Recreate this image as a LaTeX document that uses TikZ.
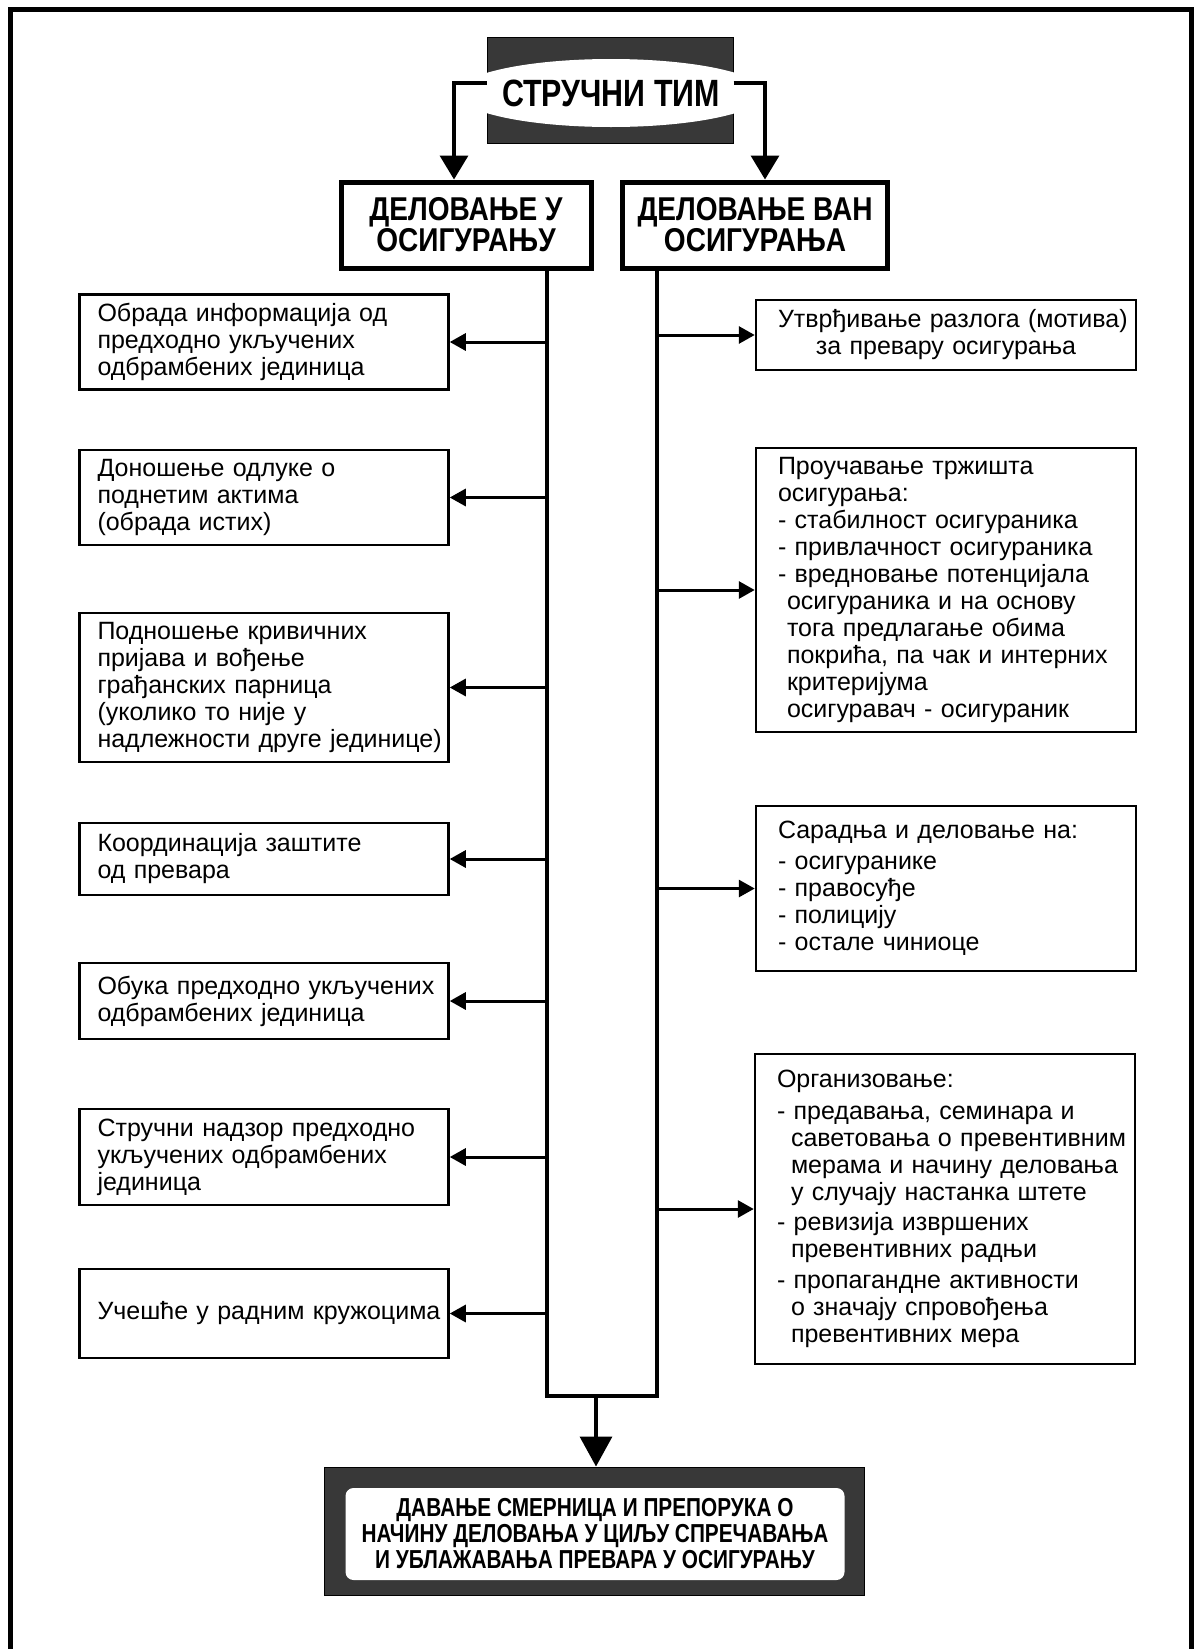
\documentclass[tikz,border=0pt]{standalone}
\usepackage{fontspec}
\setmainfont{Liberation Sans}
\newfontfamily\narrowfont[FakeStretch=0.8]{Liberation Sans Bold}
\newfontfamily\headfont[FakeStretch=0.85]{Liberation Sans Bold}
\usetikzlibrary{arrows.meta,shapes.geometric}
\tikzset{
    lbox/.style={rectangle,draw,line width=2.5pt,minimum width=369pt,text width=333pt,inner xsep=18pt,align=left,font=\fontsize{25}{27}\selectfont},
    rbox/.style={rectangle,draw,line width=2.5pt,minimum width=380pt,text width=336pt,inner xsep=22pt,align=left,font=\fontsize{25}{27}\selectfont},
    head/.style={rectangle,draw,line width=5pt,minimum height=86pt,align=center,font=\headfont\fontsize{33}{31}\selectfont},
    dark/.style={rectangle,fill=black!78,draw=black,line width=1pt},
    dedge/.style={->,> = {Triangle[length=16pt,width=17pt]},line width=3pt},
    bigedge/.style={->,> = {Triangle[length=24pt,width=28pt]},line width=3.5pt},
    edge/.style={-,line width=3.5pt, draw=black},
}
\begin{document}
\begin{tikzpicture}[x=1pt,y=-1pt]
\useasboundingbox (0,0) rectangle (1194,1649);
\draw[line width=5pt] (10.5,1649) -- (10.5,9.5) -- (1191.5,9.5) -- (1191.5,1649);
% top
\node[dark,minimum width=246pt,minimum height=106pt] (timbg) at (610,90) {};
\node[ellipse,fill=white,minimum width=228pt,minimum height=68pt,inner sep=0pt,font=\narrowfont\fontsize{38}{38}\selectfont] (tim) at (611,93) {СТРУЧНИ ТИМ};
\node[head,minimum width=250pt] (hl) at (466,225) {ДЕЛОВАЊЕ У\\ОСИГУРАЊУ};
\node[head,minimum width=265pt] (hr) at (755,225) {ДЕЛОВАЊЕ ВАН\\ОСИГУРАЊА};
% left column
\node[lbox,minimum height=95pt] (b1) at (264,342) {Обрада информација од\\предходно укључених\\одбрамбених јединица};
\node[lbox,minimum height=95pt] (b2) at (264,497.5) {Доношење одлуке о\\поднетим актима\\(обрада истих)};
\node[lbox,minimum height=149pt] (b3) at (264,687.5) {Подношење кривичних\\пријава и вођење\\грађанских парница\\(уколико то није у\\надлежности~друге~јединице)};
\node[lbox,minimum height=72pt] (b4) at (264,859) {Координација заштите\\од превара};
\node[lbox,minimum height=76pt] (b5) at (264,1001) {Обука~предходно~укључених\\одбрамбених јединица};
\node[lbox,minimum height=96pt] (b6) at (264,1157) {Стручни надзор предходно\\укључених одбрамбених\\јединица};
\node[lbox,minimum height=89pt] (b7) at (264,1313.5) {Учешће~у~радним~кружоцима};
% right column
\node[rbox,minimum height=70pt,align=center] (r1) at (946,335) {Утврђивање~разлога~(мотива)\\за превару осигурања};
\node[rbox,minimum height=284pt] (r2) at (946,590) {Проучавање тржишта\\осигурања:\\- стабилност осигураника\\- привлачност осигураника\\- вредновање потенцијала\\\hspace*{9pt}осигураника~и~на~основу\\\hspace*{9pt}тога предлагање обима\\\hspace*{9pt}покрића,~па~чак~и~интерних\\\hspace*{9pt}критеријума\\\hspace*{9pt}осигуравач - осигураник};
\node[rbox,minimum height=165pt] (r3) at (946,888.5) {Сарадња и деловање на:\\[4pt]- осигуранике\\- правосуђе\\- полицију\\- остале чиниоце};
\node[rbox,minimum height=310pt] (r4) at (945,1209) {Организовање:\\[5pt]- предавања, семинара и\\\hspace*{14pt}саветовања~о~превентивним\\\hspace*{14pt}мерама~и~начину~деловања\\\hspace*{14pt}у случају настанка штете\\[3pt]- ревизија извршених\\\hspace*{14pt}превентивних радњи\\[4pt]- пропагандне активности\\\hspace*{14pt}о значају спровођења\\\hspace*{14pt}превентивних мера};
% bottom
\node[dark,minimum width=540pt,minimum height=128pt] (finbg) at (594,1531) {};
\node[rectangle,fill=white,rounded corners=8pt,minimum width=499pt,minimum height=92pt,align=center,font=\narrowfont\fontsize{26}{26}\selectfont] (fin) at (595,1534) {ДАВАЊЕ СМЕРНИЦА И ПРЕПОРУКА О\\НАЧИНУ ДЕЛОВАЊА У ЦИЉУ СПРЕЧАВАЊА\\И УБЛАЖАВАЊА ПРЕВАРА У ОСИГУРАЊУ};
\coordinate (tl) at (454,83);
\coordinate (tr) at (765,83);
\coordinate (sl) at (547,1396);
\coordinate (sr) at (657,1396);
\coordinate (sm) at (596,1396);
\draw[bigedge] (timbg.west |- tl) -- (tl) -- (tl |- hl.north);
\draw[bigedge] (timbg.east |- tr) -- (tr) -- (tr |- hr.north);
\draw[edge] (hl.south -| sl) -- (sl) -- (sr) -- (hr.south -| sr);
\draw[dedge] (b1.east -| sl) -- (b1.east);
\draw[dedge] (b2.east -| sl) -- (b2.east);
\draw[dedge] (b3.east -| sl) -- (b3.east);
\draw[dedge] (b4.east -| sl) -- (b4.east);
\draw[dedge] (b5.east -| sl) -- (b5.east);
\draw[dedge] (b6.east -| sl) -- (b6.east);
\draw[dedge] (b7.east -| sl) -- (b7.east);
\draw[dedge] (r1.west -| sr) -- (r1.west);
\draw[dedge] (r2.west -| sr) -- (r2.west);
\draw[dedge] (r3.west -| sr) -- (r3.west);
\draw[dedge] (r4.west -| sr) -- (r4.west);
\draw[bigedge,> = {Triangle[length=30pt,width=32pt]}] (sm) -- (sm |- finbg.north);
\end{tikzpicture}
\end{document}
